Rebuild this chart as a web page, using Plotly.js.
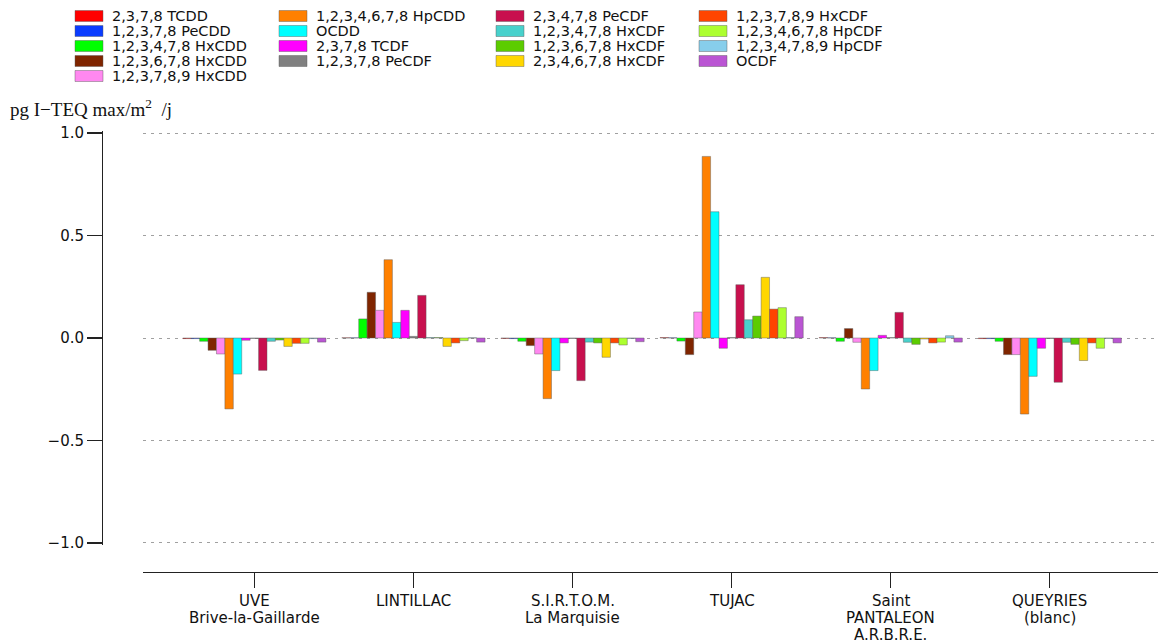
<!DOCTYPE html>
<html>
<head>
<meta charset="utf-8">
<script src="https://cdn.plot.ly/plotly-3.0.1.min.js"></script>
<style>
  html, body { margin: 0; padding: 0; background: #fff; }
  #chart { width: 1158px; height: 644px; }
</style>
</head>
<body>
<div id="chart"></div>
<script>
// ---------- data ----------
const sites = [
  "UVE<br>Brive-la-Gaillarde",
  "LINTILLAC",
  "S.I.R.T.O.M.<br>La Marquisie",
  "TUJAC",
  "Saint<br>PANTALEON<br>A.R.B.R.E.",
  "QUEYRIES<br>(blanc)"
];

const seriesNames = [
  "2,3,7,8 TCDD",
  "1,2,3,7,8 PeCDD",
  "1,2,3,4,7,8 HxCDD",
  "1,2,3,6,7,8 HxCDD",
  "1,2,3,7,8,9 HxCDD",
  "1,2,3,4,6,7,8 HpCDD",
  "OCDD",
  "2,3,7,8 TCDF",
  "1,2,3,7,8 PeCDF",
  "2,3,4,7,8 PeCDF",
  "1,2,3,4,7,8 HxCDF",
  "1,2,3,6,7,8 HxCDF",
  "2,3,4,6,7,8 HxCDF",
  "1,2,3,7,8,9 HxCDF",
  "1,2,3,4,6,7,8 HpCDF",
  "1,2,3,4,7,8,9 HpCDF",
  "OCDF"
];

const seriesColors = [
  "#ff0000", "#0a3cff", "#00ff00", "#7f2500", "#ff88f0",
  "#ff8000", "#00ffff", "#ff00ff", "#808080", "#c8104e",
  "#48d1cc", "#5ccc00", "#ffd700", "#ff4500", "#adff2f",
  "#87ceeb", "#ba55d3"
];

// values per congener, in site order
const tcdd         = [-0.003,  0.001, -0.002,  0.002,  0.002, -0.003];
const pecdd        = [-0.003,  0.001, -0.003,  0.001,  0.001, -0.003];
const hxcdd123478  = [-0.016,  0.093, -0.016, -0.015, -0.016, -0.016];
const hxcdd123678  = [-0.060,  0.223, -0.037, -0.081,  0.046, -0.081];
const hxcdd123789  = [-0.078,  0.135, -0.078,  0.127, -0.021, -0.081];
const hpcdd        = [-0.346,  0.382, -0.296,  0.886, -0.249, -0.371];
const ocdd         = [-0.176,  0.076, -0.159,  0.616, -0.159, -0.187];
const tcdf         = [-0.011,  0.135, -0.024, -0.050,  0.013, -0.050];
const pecdf12378   = [-0.002,  0.008, -0.002,  0.002,  0.002, -0.002];
const pecdf23478   = [-0.158,  0.208, -0.208,  0.260,  0.125, -0.216];
const hxcdf123478  = [-0.016,  0.002, -0.020,  0.089, -0.021, -0.021];
const hxcdf123678  = [-0.010,  0.002, -0.024,  0.107, -0.031, -0.031];
const hxcdf234678  = [-0.041, -0.041, -0.094,  0.296, -0.005, -0.110];
const hxcdf123789  = [-0.026, -0.024, -0.024,  0.141, -0.024, -0.024];
const hpcdf1234678 = [-0.026, -0.013, -0.034,  0.148, -0.020, -0.050];
const hpcdf1234789 = [-0.003,  0.001, -0.002,  0.002,  0.011, -0.002];
const ocdf         = [-0.020, -0.020, -0.018,  0.104, -0.020, -0.024];

const seriesValues = [
  tcdd, pecdd, hxcdd123478, hxcdd123678, hxcdd123789, hpcdd, ocdd, tcdf,
  pecdf12378, pecdf23478, hxcdf123478, hxcdf123678, hxcdf234678, hxcdf123789,
  hpcdf1234678, hpcdf1234789, ocdf
];

const yTickVals = [-1.0, -0.5, 0.0, 0.5, 1.0];
const yTitle = "pg I\u2212TEQ max/m<sup>2</sup>&nbsp; /j";

// ---------- geometry ----------
const W = 1158, H = 644;
const M = { l: 102, r: 0, t: 131, b: 72 };
const PW = W - M.l - M.r, PH = H - M.t - M.b;
const px = x => (x - M.l) / PW;
const py = y => (H - M.b - y) / PH;

const FONT = "DejaVu Sans, Verdana, sans-serif";
const EDGE = "rgba(90,90,90,0.55)";

const traces = seriesNames.map((name, i) => ({
  type: "bar",
  name: name,
  x: sites,
  y: seriesValues[i],
  marker: { color: seriesColors[i], line: { color: EDGE, width: 0.8 } },
  showlegend: false,
  hoverinfo: "name+y"
}));

const shapes = [];
const annotations = [];

// ---------- custom legend (4 columns, column-major) ----------
const colSwatchX = [75, 279, 496, 699];
const colStarts  = [0, 5, 9, 13];
const rowY0 = 16, rowStep = 15;
seriesNames.forEach((name, i) => {
  let c = 0;
  for (let k = 0; k < colStarts.length; k++) if (i >= colStarts[k]) c = k;
  const r = i - colStarts[c];
  const yc = rowY0 + r * rowStep;
  shapes.push({
    type: "rect", xref: "paper", yref: "paper",
    x0: px(colSwatchX[c]), x1: px(colSwatchX[c] + 28),
    y0: py(yc - 5.5), y1: py(yc + 5.5),
    fillcolor: seriesColors[i],
    line: { color: EDGE, width: 0.8 }
  });
  annotations.push({
    xref: "paper", yref: "paper",
    x: px(colSwatchX[c] + 36), y: py(yc),
    xanchor: "left", yanchor: "middle",
    text: name, showarrow: false,
    font: { family: FONT, size: 14.5, color: "#111" },
    borderpad: 0
  });
});

// y-axis title (top-left, horizontal)
annotations.push({
  xref: "paper", yref: "paper",
  x: px(9), y: py(108),
  xanchor: "left", yanchor: "middle",
  text: yTitle, showarrow: false,
  font: { family: "Liberation Serif, DejaVu Serif, serif", size: 19, color: "#111" },
  borderpad: 0
});

// x tick labels, one line each (tighter line spacing)
sites.forEach((s, i) => {
  s.split("<br>").forEach((line, k) => {
    annotations.push({
      xref: "x", yref: "paper",
      x: i, y: py(601 + 17 * k),
      xanchor: "center", yanchor: "middle",
      text: line, showarrow: false,
      font: { family: FONT, size: 15, color: "#111" },
      borderpad: 0
    });
  });
});

const layout = {
  width: W, height: H,
  margin: M,
  paper_bgcolor: "#fff",
  plot_bgcolor: "#fff",
  showlegend: false,
  barmode: "group",
  bargap: 0.1,
  bargroupgap: 0,
  font: { family: FONT, size: 15, color: "#111" },
  xaxis: {
    domain: [px(143), 1],
    range: [-0.7, 5.68],
    anchor: "free", position: 0,
    showline: true, linecolor: "#222", linewidth: 1.3,
    ticks: "outside", ticklen: 15, tickwidth: 1.3, tickcolor: "#222",
    showticklabels: false,
    showgrid: false, zeroline: false
  },
  yaxis: {
    domain: [py(545), 1],
    range: [-1.01, 1.01],
    anchor: "free", position: 0,
    showline: true, linecolor: "#222", linewidth: 1.3,
    ticks: "outside", ticklen: 15, tickwidth: 1.3, tickcolor: "#222",
    tickmode: "array", tickvals: yTickVals, tickformat: ".1f",
    showgrid: true, gridcolor: "#a0a0a0", gridwidth: 1, griddash: "3px,5px",
    zeroline: false,
    tickfont: { family: FONT, size: 15, color: "#111" }
  },
  shapes: shapes,
  annotations: annotations
};

Plotly.newPlot("chart", traces, layout, { displayModeBar: false, staticPlot: true });
</script>
</body>
</html>
